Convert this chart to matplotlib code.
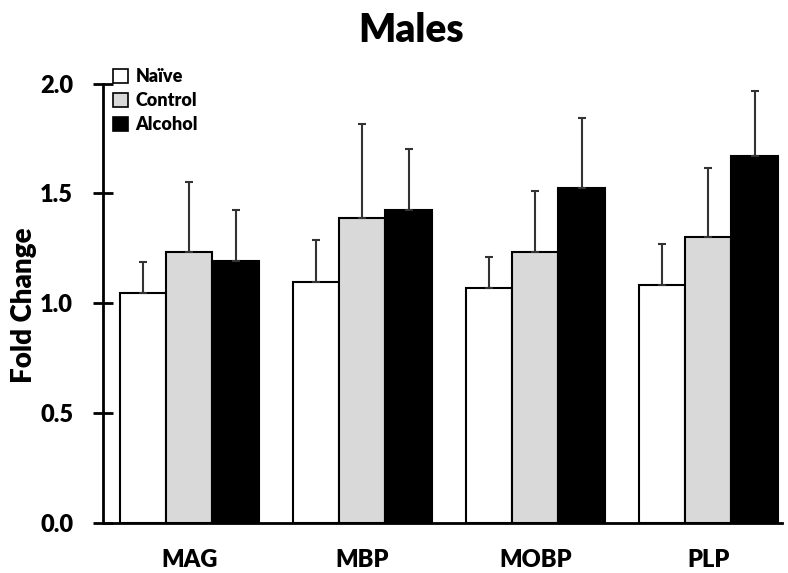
import numpy as np
import matplotlib.pyplot as plt
from matplotlib.patches import Patch

plt.rcParams['font.family'] = ['Lato', 'DejaVu Sans']
plt.rcParams['font.weight'] = 'heavy'

genes = ['MAG', 'MBP', 'MOBP', 'PLP']
groups = ['Naïve', 'Control', 'Alcohol']
colors = ['white', '#d9d9d9', 'black']

naive = [1.046, 1.099, 1.068, 1.084]
control = [1.233, 1.388, 1.235, 1.303]
alcohol = [1.192, 1.423, 1.525, 1.672]

naive_err = [0.140, 0.187, 0.144, 0.187]
control_err = [0.319, 0.427, 0.277, 0.314]
alcohol_err = [0.235, 0.279, 0.320, 0.293]

fig = plt.figure(figsize=(7.88, 5.73), dpi=100)
ax = fig.add_axes([0.1307, 0.0873, 0.8617, 0.7667])

x = np.arange(len(genes))
w = 0.266
series = [(naive, naive_err), (control, control_err), (alcohol, alcohol_err)]
for i, (vals, errs) in enumerate(series):
    pos = x + (i - 1) * w
    ax.bar(pos, vals, w, color=colors[i], edgecolor='black', linewidth=1.5, zorder=2)
    # one-sided (upper) error bars
    ax.errorbar(pos, vals, yerr=[np.zeros(len(vals)), errs], fmt='none',
                ecolor='#333333', elinewidth=1.5, capsize=3, capthick=1.5, zorder=3)

ax.set_xlim(-0.5, 3.425)
ax.set_ylim(0, 2.0)
ax.set_yticks([0.0, 0.5, 1.0, 1.5, 2.0])
ax.set_yticklabels(['0.0', '0.5', '1.0', '1.5', '2.0'])
ax.set_xticks(x)
ax.set_xticklabels(genes)

for s in ['top', 'right']:
    ax.spines[s].set_visible(False)
for s in ['left', 'bottom']:
    ax.spines[s].set_linewidth(2)

ax.tick_params(axis='y', direction='inout', length=15, width=2, pad=14, labelsize=17)
ax.tick_params(axis='x', length=0, pad=19, labelsize=17)
for lbl in ax.get_xticklabels() + ax.get_yticklabels():
    lbl.set_fontweight('heavy')

fig.text(24 / 788, 1 - 305 / 573, 'Fold Change', rotation=90, ha='center', va='center',
         fontsize=20, fontweight='heavy')
fig.text(0.522, 1 - 31 / 573, 'Males', ha='center', va='center', fontsize=28, fontweight='heavy')

handles = [Patch(facecolor=c, edgecolor='black', linewidth=1.2) for c in colors]
fig.legend(handles, groups, loc='upper left', bbox_to_anchor=(113 / 788, 1 - 68 / 573),
           frameon=False, handlelength=0.85, handleheight=0.85,
           handletextpad=0.4, labelspacing=0.4, borderpad=0, borderaxespad=0,
           prop={'weight': 'heavy', 'size': 13})

fig.savefig('out.png', dpi=100)
